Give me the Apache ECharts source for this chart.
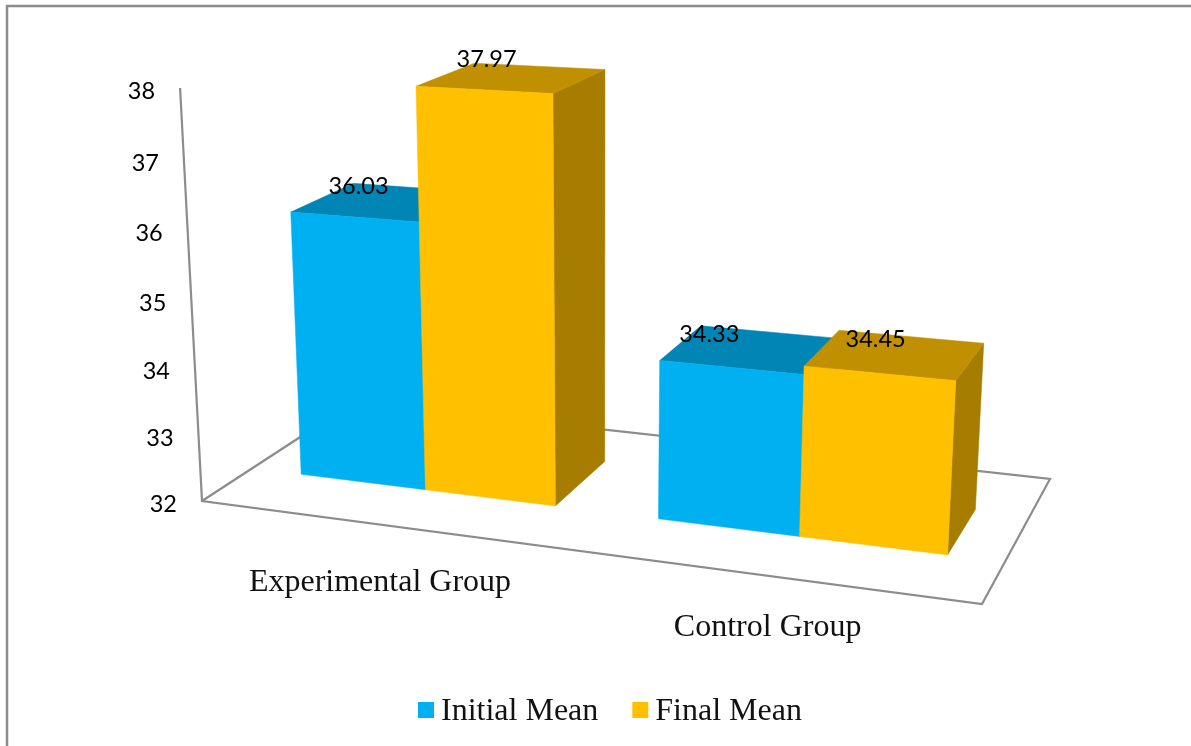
<!DOCTYPE html>
<html>
<head>
<meta charset="utf-8">
<style>html,body{margin:0;padding:0;background:#fff}#c{width:1191px;height:746px}</style>
<script src="https://cdn.jsdelivr.net/npm/echarts@6/dist/echarts.min.js"></script>
</head>
<body>
<div id="c"></div>
<script>
// ---- data ----
const categories = ['Experimental Group', 'Control Group'];
const initialMean = [36.03, 34.33];
const finalMean = [37.97, 34.45];
const valueTicks = [32, 33, 34, 35, 36, 37, 38];
const seriesNames = ['Initial Mean', 'Final Mean'];

// ---- view: a camera projection for the floor box (X across, Y up, Z deep, all 0..1) ----
const floorA = [202, 501], floorB = [982, 604], floorC = [1050, 479], floorD = [354, 402];
const vanish = [600, 8000], wTilt = -0.0522;
const barHalf = 0.1805, barShift = [0.0035, 0.002], barRise = 0.99, depth0 = 0.305, depthBack = [0.715, 0.675];
const yMin = 32, yMax = 38;

const dx1 = floorB[0] - floorC[0], dy1 = floorB[1] - floorC[1];
const dx2 = floorD[0] - floorC[0], dy2 = floorD[1] - floorC[1];
const sx = floorA[0] - floorB[0] + floorC[0] - floorD[0];
const sy = floorA[1] - floorB[1] + floorC[1] - floorD[1];
const det = dx1 * dy2 - dx2 * dy1;
const gX = (sx * dy2 - dx2 * sy) / det;
const gZ = (dx1 * sy - sx * dy1) / det;
function project(X, Y, Z) {
  const w = 1 + gX * X + gZ * Z + wTilt * Y;
  const px = floorA[0] + (floorB[0] * (1 + gX) - floorA[0]) * X + (floorD[0] * (1 + gZ) - floorA[0]) * Z + vanish[0] * wTilt * Y;
  const py = floorA[1] + (floorB[1] * (1 + gX) - floorA[1]) * X + (floorD[1] * (1 + gZ) - floorA[1]) * Z + vanish[1] * wTilt * Y;
  return [px / w, py / w];
}
// library scale -> normalised box position
function toBox(params, api, cat, val) {
  const c = api.coord([cat, val]);
  const r = params.coordSys;
  return [(c[0] - r.x) / r.width, (r.y + r.height - c[1]) / r.height];
}
function poly(points, fill) {
  return { type: 'polygon', shape: { points }, style: { fill, stroke: fill, lineWidth: 0.5 } };
}
function barRenderer(offsetSign, front, top, side) {
  return function (params, api) {
    const cat = api.value(0), val = api.value(1);
    const b = toBox(params, api, cat, val);
    const x0 = (offsetSign < 0 ? b[0] - barHalf : b[0]) + barShift[cat];
    const x1 = x0 + barHalf;
    const y = b[1] * barRise;
    const d1 = depthBack[cat];
    const P = (X, Y, Z) => project(X, Y, Z);
    return {
      type: 'group',
      children: [
        poly([P(x1, 0, depth0), P(x1, 0, d1), P(x1, y, d1), P(x1, y, depth0)], side),
        poly([P(x0, y, depth0), P(x1, y, depth0), P(x1, y, d1), P(x0, y, d1)], top),
        poly([P(x0, 0, depth0), P(x1, 0, depth0), P(x1, y, depth0), P(x0, y, depth0)], front)
      ]
    };
  };
}
const labelNudge = { 'Initial Mean': [[-26.5, -16], [-44.5, -13]], 'Final Mean': [[-25.5, -18], [-22.5, -13]] };
const catNudge = [[2, 58], [1, 52]];
function labelRenderer(name, sign) {
  return function (params, api) {
    const cat = api.value(0), val = api.value(1);
    const b = toBox(params, api, cat, val);
    const p = project(b[0] + sign * barHalf / 2 + 0.0035, b[1] * barRise, (depth0 + depthBack[0]) / 2);
    const n = labelNudge[name][cat];
    return { type: 'text', style: { x: p[0] + n[0], y: p[1] + n[1], text: val.toFixed(2), fill: '#000',
      font: '23.5px Lato', align: 'center', verticalAlign: 'middle' } };
  };
}
const lineColor = '#8c8c8c';
const floorPts = [project(0, 1, 0), project(0, 0, 0), project(1, 0, 0), project(1, 0, 1), project(0, 0, 1), project(0, 0, 0)];

const chart = echarts.init(document.getElementById('c'), null, { renderer: 'canvas' });
chart.setOption({
  animation: false,
  backgroundColor: '#fff',
  grid: { left: 100, top: 100, width: 800, height: 400 },
  xAxis: { type: 'category', data: categories, show: false },
  yAxis: { type: 'value', min: yMin, max: yMax, interval: 1, show: false },
  legend: {
    left: 413, top: 691, itemWidth: 16, itemHeight: 20, itemGap: 34,
    icon: 'path://M0 0H16V16H0Z M0 20L0 20',
    data: seriesNames,
    textStyle: { fontFamily: 'Liberation Serif', fontSize: 32, color: '#111', padding: [0, 0, 0, 2] }
  },
  graphic: [
    { type: 'polyline', shape: { points: [[7, 746], [7, 6], [1191, 6]] }, style: { fill: 'none', stroke: lineColor, lineWidth: 2.5 } },
    { type: 'polyline', shape: { points: floorPts }, z: 0, style: { fill: 'none', stroke: lineColor, lineWidth: 2.2 } }
  ],
  series: [
    { name: seriesNames[0], type: 'custom', clip: false, z: 2,
      itemStyle: { color: '#00B0F0' },
      renderItem: barRenderer(-1, '#00B0F0', '#0085B5', '#0078A4'),
      data: initialMean.map((v, i) => [i, v]) },
    { name: seriesNames[1], type: 'custom', clip: false, z: 3,
      itemStyle: { color: '#FFC000' },
      renderItem: barRenderer(1, '#FFC000', '#C09000', '#A67D00'),
      data: finalMean.map((v, i) => [i, v]) },
    { name: 'labels-a', type: 'custom', clip: false, z: 5, renderItem: labelRenderer('Initial Mean', -1), data: initialMean.map((v, i) => [i, v]) },
    { name: 'labels-b', type: 'custom', clip: false, z: 5, renderItem: labelRenderer('Final Mean', 1), data: finalMean.map((v, i) => [i, v]) },
    { name: 'ticks', type: 'custom', clip: false, z: 5,
      renderItem(params, api) {
        const v = api.value(1);
        const b = toBox(params, api, 0, v);
        const p = project(0, b[1], 0);
        return { type: 'text', style: { x: p[0] - 25, y: p[1] + 3, text: String(v), fill: '#000',
          font: '23.5px Lato', align: 'right', verticalAlign: 'middle' } };
      },
      data: valueTicks.map(v => [0, v]) },
    { name: 'cats', type: 'custom', clip: false, z: 5,
      renderItem(params, api) {
        const i = api.value(0);
        const b = toBox(params, api, i, yMin);
        const p = project(b[0], 0, 0);
        return { type: 'text', style: { x: p[0] + catNudge[i][0], y: p[1] + catNudge[i][1], text: categories[i], fill: '#111',
          font: '32px "Liberation Serif"', align: 'center', verticalAlign: 'middle' } };
      },
      data: categories.map((c, i) => [i, yMin]) }
  ]
});
</script>
</body>
</html>
